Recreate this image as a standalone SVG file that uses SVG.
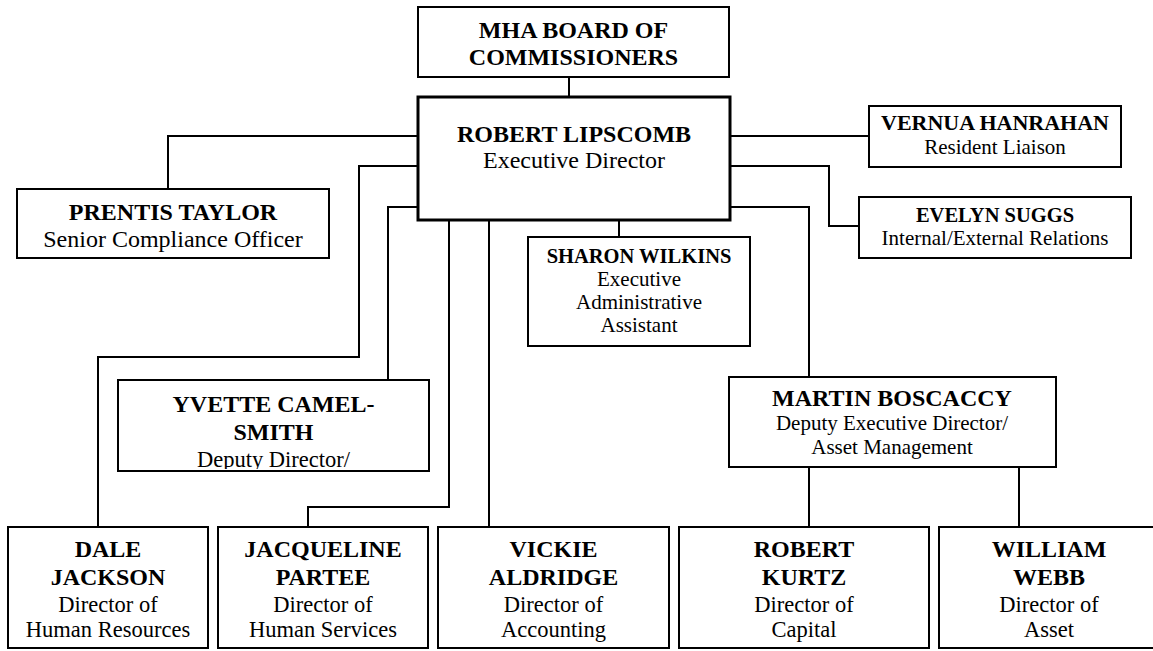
<svg xmlns="http://www.w3.org/2000/svg" width="1153" height="651" viewBox="0 0 1153 651" font-family="'Liberation Serif', 'DejaVu Serif', serif">
<style>
  .box{fill:#fff;stroke:#000;stroke-width:2}
  .boxb{fill:#fff;stroke:#000;stroke-width:3}
  .ln{fill:none;stroke:#000;stroke-width:2}
  text{font-family:'Liberation Serif','DejaVu Serif',serif;fill:#000;text-anchor:middle}
  .b24{font-weight:bold;font-size:24px}
  .b22{font-weight:bold;font-size:22px}
  .b21{font-weight:bold;font-size:20.5px}
  .r24{font-size:24px}
  .r22{font-size:22.5px}
  .r21{font-size:21px}
</style>
<defs>
  <clipPath id="clipY"><rect x="119" y="381" width="309" height="88"/></clipPath>
</defs>
<rect width="1153" height="651" fill="#fff"/>
<g id="connectors">
  <path class="ln" d="M569,77 V97"/>
  <path class="ln" d="M418,136 H168 V189"/>
  <path class="ln" d="M418,166 H359 V357 H98 V527"/>
  <path class="ln" d="M418,207 H388 V380"/>
  <path class="ln" d="M449,220 V507 H308 V527"/>
  <path class="ln" d="M489,220 V527"/>
  <path class="ln" d="M619,220 V237"/>
  <path class="ln" d="M730,136 H869"/>
  <path class="ln" d="M730,166 H829 V226 H859"/>
  <path class="ln" d="M730,207 H809 V377"/>
  <path class="ln" d="M809,467 V527"/>
  <path class="ln" d="M1019,467 V527"/>
</g>
<g id="board">
  <rect class="box" x="418" y="7" width="311" height="70"/>
  <text class="b24" x="573.5" y="38">MHA BOARD OF</text>
  <text class="b24" x="573.5" y="65">COMMISSIONERS</text>
</g>
<g id="lipscomb">
  <rect class="boxb" x="418" y="97" width="312" height="123"/>
  <text class="b24" x="574" y="142">ROBERT LIPSCOMB</text>
  <text class="r24" x="574" y="168">Executive Director</text>
</g>
<g id="taylor">
  <rect class="box" x="17" y="189" width="312" height="69"/>
  <text class="b24" x="173" y="220">PRENTIS TAYLOR</text>
  <text class="r24" x="173" y="247">Senior Compliance Officer</text>
</g>
<g id="hanrahan">
  <rect class="box" x="869" y="106" width="252" height="61"/>
  <text class="b22" x="995" y="130">VERNUA HANRAHAN</text>
  <text class="r21" x="995" y="154">Resident Liaison</text>
</g>
<g id="suggs">
  <rect class="box" x="859" y="197" width="272" height="61"/>
  <text class="b21" x="995" y="222">EVELYN SUGGS</text>
  <text class="r21" x="995" y="245">Internal/External Relations</text>
</g>
<g id="wilkins">
  <rect class="box" x="528" y="237" width="222" height="109"/>
  <text class="b21" x="639" y="263">SHARON WILKINS</text>
  <text class="r21" x="639" y="286">Executive</text>
  <text class="r21" x="639" y="309">Administrative</text>
  <text class="r21" x="639" y="332">Assistant</text>
</g>
<g id="camelsmith">
  <rect class="box" x="118" y="380" width="311" height="91"/>
  <g clip-path="url(#clipY)">
    <text class="b24" x="273.5" y="412">YVETTE CAMEL-</text>
    <text class="b24" x="273.5" y="440">SMITH</text>
    <text class="r22" x="273.5" y="467">Deputy Director/</text>
  </g>
</g>
<g id="boscaccy">
  <rect class="box" x="729" y="377" width="327" height="90"/>
  <text class="b24" x="892" y="406">MARTIN BOSCACCY</text>
  <text class="r21" x="892" y="430">Deputy Executive Director/</text>
  <text class="r21" x="892" y="454">Asset Management</text>
</g>
<g id="jackson">
  <rect class="box" x="8" y="527" width="200" height="121"/>
  <text class="b24" x="108" y="557">DALE</text>
  <text class="b24" x="108" y="585">JACKSON</text>
  <text class="r22" x="108" y="612">Director of</text>
  <text class="r22" x="108" y="637">Human Resources</text>
</g>
<g id="partee">
  <rect class="box" x="218" y="527" width="210" height="121"/>
  <text class="b24" x="323" y="557">JACQUELINE</text>
  <text class="b24" x="323" y="585">PARTEE</text>
  <text class="r22" x="323" y="612">Director of</text>
  <text class="r22" x="323" y="637">Human Services</text>
</g>
<g id="aldridge">
  <rect class="box" x="438" y="527" width="231" height="121"/>
  <text class="b24" x="553.5" y="557">VICKIE</text>
  <text class="b24" x="553.5" y="585">ALDRIDGE</text>
  <text class="r22" x="553.5" y="612">Director of</text>
  <text class="r22" x="553.5" y="637">Accounting</text>
</g>
<g id="kurtz">
  <rect class="box" x="679" y="527" width="250" height="121"/>
  <text class="b24" x="804" y="557">ROBERT</text>
  <text class="b24" x="804" y="585">KURTZ</text>
  <text class="r22" x="804" y="612">Director of</text>
  <text class="r22" x="804" y="637">Capital</text>
</g>
<g id="webb">
  <rect class="box" x="939" y="527" width="220" height="121"/>
  <text class="b24" x="1049" y="557">WILLIAM</text>
  <text class="b24" x="1049" y="585">WEBB</text>
  <text class="r22" x="1049" y="612">Director of</text>
  <text class="r22" x="1049" y="637">Asset</text>
</g>
</svg>
